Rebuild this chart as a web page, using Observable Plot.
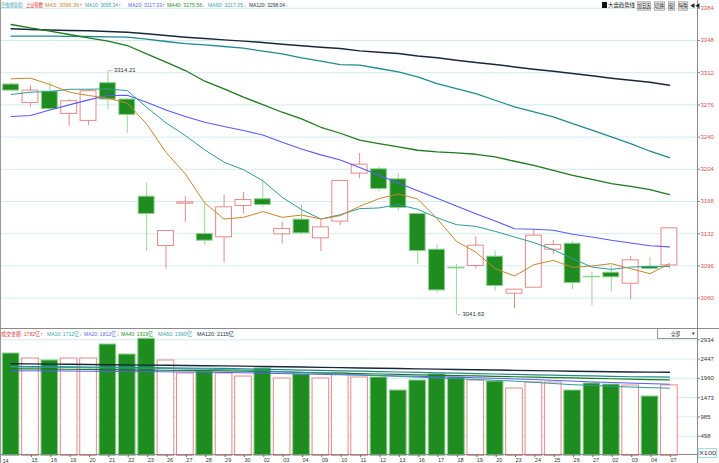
<!DOCTYPE html>
<html><head><meta charset="utf-8">
<script src="https://cdn.jsdelivr.net/npm/d3@7"></script>
<script src="https://cdn.jsdelivr.net/npm/@observablehq/plot@0.6"></script>
<style>
body{margin:0;background:#fff;}
#wrap{position:relative;width:719px;height:463px;overflow:hidden;background:#fff;font-family:"Liberation Sans","Noto Sans CJK SC",sans-serif;}
.t{position:absolute;white-space:nowrap;font-size:6px;line-height:8px;transform-origin:0 50%;}
.ln{position:absolute;background:#8a8a8a;}
.svgbox{position:absolute;left:0;}
</style></head><body><div id="wrap"></div>
<script>
// ---------- data ----------
const dates = ["14","15","16","19","20","21","22","23","26","27","28","29","30","02","03","04","09","10",
  "11","12","13","16","17","18","19","20","23","24","25","26","27","02","03","04","07"];
const openP  = [3298.8,3278.2,3290.9,3265.9,3258.1,3300.3,3282.0,3173.4,3118.2,3165.5,3131.7,3127.9,3163.0,3170.5,3131.3,3147.7,3126.8,3145.5,
  3199.2,3204.0,3192.8,3154.0,3114.1,3094.0,3095.9,3106.3,3064.9,3071.6,3114.1,3120.8,3083.8,3088.4,3076.1,3094.7,3096.6];
const closeP = [3292.0,3292.0,3271.2,3280.1,3291.3,3282.0,3264.8,3154.0,3135.0,3167.1,3124.2,3161.5,3169.7,3164.1,3137.3,3132.4,3139.1,3191.0,
  3209.2,3182.0,3160.8,3112.6,3068.6,3093.2,3118.6,3073.5,3069.4,3129.8,3119.4,3076.8,3083.3,3083.2,3102.2,3092.5,3138.0];
const highP  = [3300.5,3297.6,3301.4,3281.6,3293.2,3314.21,3283.0,3188.7,3135.5,3173.4,3166.0,3175.3,3178.3,3192.1,3144.7,3164.1,3146.6,3191.5,
  3221.6,3206.6,3199.2,3154.5,3119.7,3097.7,3128.3,3112.3,3069.6,3136.9,3124.6,3123.5,3088.8,3095.5,3106.7,3105.6,3138.5];
const lowP   = [3291.5,3273.4,3270.0,3252.1,3252.9,3270.4,3244.3,3112.3,3092.5,3144.7,3119.0,3099.2,3154.0,3161.5,3120.5,3130.5,3111.9,3141.0,
  3193.6,3178.7,3157.4,3097.3,3065.6,3041.63,3092.5,3067.9,3048.1,3071.0,3108.5,3069.4,3051.5,3066.8,3058.2,3092.0,3092.9];
const ma5   = [3305.1,3305.9,3298.8,3290.2,3286.5,3283.5,3277.9,3254.7,3223.0,3198.8,3166.3,3148.4,3150.3,3156.7,3150.3,3152.9,3148.4,3152.2,
  3162.6,3171.2,3176.4,3170.8,3148.8,3123.5,3111.5,3092.9,3084.7,3097.3,3102.2,3094.4,3095.9,3098.5,3092.9,3087.3,3098.4];
const ma10  = [3287.6,3290.2,3290.9,3293.5,3293.5,3293.9,3292.0,3273.4,3255.9,3241.7,3225.7,3211.9,3203.6,3191.3,3172.7,3158.9,3148.4,3153.3,
  3160.0,3160.8,3164.5,3159.3,3149.9,3142.1,3140.2,3134.6,3128.3,3122.0,3114.1,3104.1,3094.7,3092.1,3094.7,3095.5,3095.3];
const ma20  = [3263.0,3264.1,3270.4,3276.0,3281.6,3286.5,3286.8,3279.0,3270.4,3263.0,3256.6,3251.8,3247.3,3242.4,3234.2,3226.8,3220.1,3214.5,
  3205.9,3197.3,3188.7,3180.1,3171.6,3163.0,3154.4,3146.2,3137.6,3136.9,3135.8,3131.3,3128.3,3124.6,3121.6,3118.6,3117.3];
const ma40  = [3365.9,3362.2,3358.4,3354.7,3351.0,3347.3,3342.4,3333.1,3323.8,3314.4,3302.5,3293.9,3284.6,3276.4,3267.8,3260.3,3251.0,3244.3,
  3236.5,3232.7,3229.0,3225.3,3223.4,3222.3,3220.8,3217.8,3213.0,3208.5,3202.9,3197.3,3192.8,3188.0,3185.0,3181.3,3175.6];
const ma60  = [3352.8,3352.8,3352.8,3352.5,3352.5,3352.1,3351.7,3349.5,3346.9,3344.6,3343.2,3341.3,3339.4,3336.1,3333.1,3328.6,3324.9,3321.1,
  3320.4,3316.7,3312.9,3307.3,3299.9,3294.3,3288.7,3281.2,3273.8,3268.2,3262.6,3255.1,3247.7,3240.2,3232.7,3224.2,3217.1];
const ma120 = [3361.1,3360.3,3359.6,3359.2,3358.8,3358.1,3357.3,3355.5,3353.6,3351.7,3350.2,3348.7,3347.3,3345.8,3343.9,3342.0,3340.5,3339.0,
  3336.4,3334.9,3333.5,3330.8,3328.6,3326.0,3323.4,3321.1,3318.5,3315.9,3313.7,3311.1,3308.5,3305.9,3303.6,3301.4,3298.0];
const volume = [2588,2461,2411,2461,2461,2815,2562,2960,2411,2082,2133,2082,2006,2209,1956,2057,1956,2082,
  1981,1981,1653,1905,2057,1981,1905,1880,1703,1855,1855,1653,1830,1804,1779,1501,1782];
const volMA10  = [2250,2245,2240,2235,2230,2225,2220,2215,2210,2200,2190,2180,2170,2150,2130,2110,2090,2070,
  2050,2030,2010,1990,1970,1950,1930,1910,1890,1860,1830,1800,1780,1760,1740,1725,1712];
const volMA20  = [2150,2150,2148,2145,2140,2135,2130,2128,2125,2120,2115,2110,2100,2090,2080,2070,2060,2050,
  2040,2030,2020,2010,2000,1990,1975,1960,1945,1930,1910,1890,1870,1855,1840,1825,1812];
const volMA40  = [2200,2198,2195,2190,2185,2180,2175,2170,2165,2160,2155,2150,2140,2130,2120,2110,2100,2090,
  2080,2070,2060,2050,2040,2030,2020,2010,2000,1990,1980,1970,1960,1950,1940,1930,1919];
const volMA60  = [2260,2258,2255,2250,2245,2240,2235,2230,2225,2220,2215,2210,2200,2190,2180,2170,2160,2150,
  2140,2130,2120,2110,2100,2090,2080,2070,2060,2050,2040,2030,2020,2010,2000,1995,1990];
const volMA120 = [2330,2325,2320,2315,2310,2305,2300,2295,2290,2285,2280,2275,2268,2260,2252,2245,2238,2230,
  2222,2215,2208,2200,2192,2185,2178,2170,2162,2155,2148,2140,2133,2127,2122,2118,2115];
const priceTicks = [3060,3096,3132,3168,3204,3240,3276,3312,3348,3384];
const volTicks = [498,985,1473,1960,2447,2934];

// ---------- build ----------
const wrap = document.getElementById("wrap");
const n = dates.length;
const rows = dates.map((d,i)=>({i, d, o:openP[i], c:closeP[i], h:highP[i], l:lowP[i], v:volume[i], up: closeP[i] >= openP[i]}));
const xS = {type:"linear", domain:[0, n-1], range:[10.6, 668.9], axis:null};
const font = {fontFamily:"'Liberation Sans','Noto Sans CJK SC',sans-serif", fontSize:"6px", background:"transparent", overflow:"visible"};
const UPS = "#e58a8a", DNF = "#1e8c1e", DNS = "#8fd08f";
const half = 0.41;
const maSeries = [
  {v:ma120, c:"#18283a", w:1.5},
  {v:ma60, c:"#1f8b91", w:1.3},
  {v:ma40, c:"#1d7a1d", w:1.3},
  {v:ma20, c:"#5a5aff", w:1.1},
  {v:ma10, c:"#2f9b9b", w:1},
  {v:ma5, c:"#c9862c", w:1}
];

const price = Plot.plot({
  width:719, height:329, marginLeft:0, marginRight:22, marginTop:0, marginBottom:0,
  style: font,
  x: xS,
  y: {domain:[3060,3348], range:[297.6,40], axis:null},
  marks: [
    Plot.ruleY(priceTicks, {stroke:"#d3ecf0", strokeWidth:1}),
    Plot.axisY({anchor:"right", ticks:priceTicks, tickFormat:d=>String(d), tickSize:2, tickPadding:1, stroke:"#888", fill:"#d9534f", label:null, fontSize:6}),
    Plot.ruleX(rows, {x:"i", y1:"l", y2:"h", stroke:d=>d.up?UPS:"#9ad69a", strokeWidth:1}),
    Plot.rect(rows, {x1:d=>d.i-half, x2:d=>d.i+half, y1:"o", y2:"c", fill:d=>d.up?"#ffffff":DNF, stroke:d=>d.up?UPS:DNS, strokeWidth:1}),
    ...maSeries.map(s=>Plot.line(s.v, {x:(d,i)=>i, y:d=>d, stroke:s.c, strokeWidth:s.w})),
    Plot.text([rows[5]], {x:"i", y:"h", text:d=>"←"+d.h.toFixed(2), textAnchor:"start", dx:0, dy:-1, fill:"#333", fontSize:6}),
    Plot.text([rows[23]], {x:"i", y:"l", text:d=>"←"+d.l.toFixed(2), textAnchor:"start", dx:0, dy:0, fill:"#333", fontSize:6})
  ]
});
price.classList.add("svgbox"); price.style.top = "0px";
wrap.appendChild(price);

const volMAs = [
  {v:volMA120, c:"#18283a", w:1.4},
  {v:volMA60, c:"#1f8b91", w:1.2},
  {v:volMA40, c:"#1d7a1d", w:1.2},
  {v:volMA20, c:"#5a5aff", w:1},
  {v:volMA10, c:"#2f9b9b", w:1}
];
const vol = Plot.plot({
  width:719, height:134, marginLeft:0, marginRight:22, marginTop:0, marginBottom:8,
  style: font,
  x: xS,
  y: {domain:[0,2934], range:[126.4,10.3], axis:null},
  marks: [
    Plot.ruleY(volTicks, {stroke:"#d3ecf0", strokeWidth:1}),
    Plot.axisY({anchor:"right", ticks:volTicks, tickFormat:d=>String(d), tickSize:2, tickPadding:1, stroke:"#888", fill:"#333", label:null, fontSize:6}),
    Plot.rect(rows, {x1:d=>d.i-0.43, x2:d=>d.i+0.43, y1:0, y2:d=>Math.min(d.v, 2960), fill:d=>d.up?"#ffffff":DNF, stroke:d=>d.up?UPS:DNS, strokeWidth:1}),
    ...volMAs.map(s=>Plot.line(s.v, {x:(d,i)=>i, y:d=>d, stroke:s.c, strokeWidth:s.w})),
    Plot.axisX({anchor:"bottom", ticks:d3.range(1,n), tickFormat:i=>dates[i], tickSize:2, tickPadding:1, textAnchor:"start", dx:1, stroke:"#666", fill:"#333", label:null, fontSize:5.5}),
    Plot.text([0], {frameAnchor:"bottom-left", text:i=>dates[i], textAnchor:"start", dx:2, dy:7, fill:"#333", fontSize:5.5})
  ]
});
vol.classList.add("svgbox"); vol.style.top = "329px";
wrap.appendChild(vol);

// ---------- frame lines ----------
function line(x,y,w,h,c){const d=document.createElement("div");d.className="ln";d.style.left=x+"px";d.style.top=y+"px";d.style.width=w+"px";d.style.height=h+"px";if(c)d.style.background=c;wrap.appendChild(d);}
line(0,0,1,463,"#9a9a9a");
line(697,0,1,463,"#8a8a8a");
line(0,328,719,1,"#8a8a8a");
line(0,454,697,1,"#8a8a8a");

// ---------- header texts (fitted to the reference widths) ----------
function txt(s,x,y,c,extra){const d=document.createElement("div");d.className="t";d.textContent=s;d.style.left=x+"px";d.style.top=y+"px";d.style.color=c;if(extra)Object.assign(d.style,extra);wrap.appendChild(d);return d;}
function fit(s,x0,x1,y,c,extra){const d=txt(s,x0,y,c,extra);const w=d.getBoundingClientRect().width;if(w>0){const k=(x1-x0)/w;d.style.transform=`scale(${k.toFixed(3)},${Math.min(1,Math.max(k,0.92)).toFixed(3)})`;}return d;}
const headY = 1;
fit("日线(前复权)",1,23,headY,"#3a9db0");
fit("上证指数",26,43,headY,"#e03030");
fit("MA5: 3098.39",45,79,headY,"#c98a3a"); txt("↑",79.5,headY,"#e03030",{fontSize:"5px"});
fit("MA10: 3095.34",85,118,headY,"#3aa3a8"); txt("↑",118.5,headY,"#e03030",{fontSize:"5px"});
fit("MA20: 3117.33",128,162,headY,"#6464f0"); txt("↑",162.5,headY,"#e03030",{fontSize:"5px"});
fit("MA40: 3175.56",167,202,headY,"#2a8a2a"); txt("↓",202.5,headY,"#2aa0b0",{fontSize:"5px"});
fit("MA60: 3217.05",208,243,headY,"#3aa3a8"); txt("↓",243.5,headY,"#2aa0b0",{fontSize:"5px"});
fit("MA120: 3298.04",249,285,headY,"#26344a"); txt("↓",285.5,headY,"#2aa0b0",{fontSize:"5px"});

const vY = 330;
fit("成交金额: 1782亿",1,40,vY,"#e04040"); txt("↑",40.5,vY,"#e03030",{fontSize:"5px"});
fit("MA10: 1712亿",47,79,vY,"#3aa3a8"); txt("↓",79.5,vY,"#2aa0b0",{fontSize:"5px"});
fit("MA20: 1812亿",84,116,vY,"#6464f0"); txt("↓",116.5,vY,"#2aa0b0",{fontSize:"5px"});
fit("MA40: 1919亿",121,153,vY,"#2a8a2a");
fit("MA60: 1990亿",158,192,vY,"#3aa3a8");
fit("MA120: 2115亿",197,234,vY,"#26344a");

// buttons top right
const bs = {border:"1px solid #a0a0a0", background:"#f2f2f2", height:"8px", lineHeight:"8px"};
txt("",602,2,"#000",{width:"5px",height:"6px",background:"#111"});
fit("大盘趋势线",608,635,1,"#222");
fit("加自选",637,651,1,"#222",bs);
fit("切换",654,665,1,"#222",bs);
fit("窗",668,675,1,"#222",bs);
fit("特殊",678,688,1,"#222",bs);
txt("◀◀",690,1,"#222",{fontSize:"5px"});
// dropdown in volume panel
const dd = document.createElement("div"); dd.style.cssText="position:absolute;left:657px;top:329px;width:40px;height:9px;border:1px solid #999;border-top:none;border-right:none;";
wrap.appendChild(dd);
fit("全部",671,680,329.5,"#222");
txt("▾",692,329,"#222",{fontSize:"5px"});
fit("X100",699,716,449,"#333",{outline:"1px solid #9fdde8"});
</script></body></html>
